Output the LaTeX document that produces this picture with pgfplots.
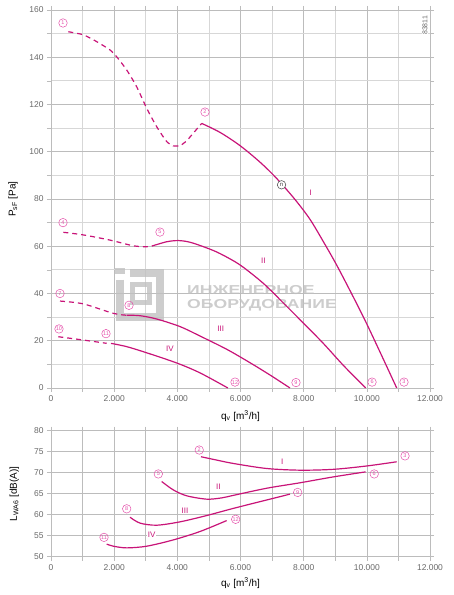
\documentclass[border=0pt]{standalone}
\usepackage{pgfplots}
\pgfplotsset{compat=1.18}
\usepackage{fontspec}
\setmainfont{Liberation Sans}
\definecolor{curve}{RGB}{200,20,120}
\definecolor{lab}{RGB}{228,80,170}
\definecolor{gridc}{RGB}{188,188,188}
\definecolor{gridm}{RGB}{215,215,215}
\definecolor{tickc}{RGB}{105,105,105}
\definecolor{wm}{RGB}{192,192,192}
\tikzset{
  cn/.style={circle, draw=lab, text=lab, line width=0.5bp, inner sep=0pt, minimum size=8.5bp, font=\fontsize{5.5}{5.5}\selectfont},
  rn/.style={text=curve, inner sep=1bp, fill=white, font=\fontsize{8}{8}\selectfont},
}
\pgfplotsset{
  mybase/.style={
    scale only axis, anchor=south west,
    xmin=0, xmax=12000,
    xtick={0,2000,...,12000},
    xticklabels={0,2.000,4.000,6.000,8.000,10.000,12.000},
    minor xtick={1000,3000,...,11000},
    grid=both,
    major grid style={draw=gridc, line width=0.6bp},
    minor grid style={draw=gridc, line width=0.6bp},
    axis line style={draw=gridc, line width=0.7bp},
    tick align=outside,
    major tick length=4bp, minor tick length=4bp,
    tick style={draw=gridc, line width=0.6bp},
    ticklabel style={font=\fontsize{8.5}{10}\selectfont, text=tickc},
    label style={font=\fontsize{8.5}{10}\selectfont, text=tickc},
    /pgf/number format/assume math mode=true,
    xlabel={q\textsubscript{v} [m\textsuperscript{3}/h]},
    every axis plot/.append style={line width=1.2bp, draw=curve, no marks},
    scaled ticks=false,
    clip=false,
  },
  dsh/.style={dash pattern=on 5bp off 4bp},
}
\begin{document}
\begin{tikzpicture}
\useasboundingbox (0bp,0bp) rectangle (454bp,595bp);
% ---------------- top chart ----------------
\begin{axis}[mybase, at={(51bp,207bp)}, width=379bp, height=378bp,
  ymin=0, ymax=160, ytick={0,20,...,160}, minor ytick={10,30,...,150},
  minor grid style={draw=gridm, line width=0.8bp},
  ylabel={P\textsubscript{sF} [Pa]},
  every axis y label/.style={at={(axis description cs:-0.100,0.5)}, anchor=center, rotate=90},
  every axis x label/.style={at={(axis description cs:0.5,-0.074)}, anchor=center},
]
% watermark (logo + text)
\begin{scope}[opacity=0.8]
\fill[wm] (axis cs:2026,50.8) rectangle (axis cs:2343,48.3);
\draw[wm, line width=8bp] (axis cs:2185,45.9) -- (axis cs:2185,30.0) -- (axis cs:3451,30.0) -- (axis cs:3451,48.7) -- (axis cs:2501,48.7);
\draw[wm, line width=5bp] (axis cs:2596,44.0) rectangle (axis cs:3134,36.0);
\node[anchor=west, text=wm, inner sep=0pt, font=\bfseries\fontsize{13}{13}\selectfont] at (axis cs:4306,41.5) {\scalebox{1.36}[1]{ИНЖЕНЕРНОЕ}};
\node[anchor=west, text=wm, inner sep=0pt, font=\bfseries\fontsize{13}{13}\selectfont] at (axis cs:4306,35.1) {\scalebox{1.36}[1]{ОБОРУДОВАНИЕ}};
\end{scope}
% curve I
\addplot[dsh, smooth, tension=0.4] coordinates {(548,150.8) (1023,149.5) (1447,146.6) (1868,143.1) (2080,140.2) (2397,134.6) (2713,127.5) (3030,118.4) (3347,110.6) (3663,104.3) (3873,102.4)};
\addplot[dsh] coordinates {(3873,102.4) (4085,102.4) (4296,104.6) (4771,112)};
\addplot[smooth, tension=0.5] coordinates {(4771,112) (5351,108.2) (5984,102.6) (6617,95.6) (7145,88.7) (7725,79.8) (8200,71.4) (8621,62.0) (9046,52.0) (9572,38.5) (9995,27.2) (10418,15.2) (10946,0)};
% curve II
\addplot[dsh, smooth] coordinates {(390,65.9) (1023,64.8) (1868,62.6) (2606,60.2) (3030,59.8) (3200,60.1)};
\addplot[smooth, tension=0.5] coordinates {(3200,60.1) (3663,61.9) (4032,62.4) (4401,61.7) (4929,59.3) (5351,56.9) (5984,52.1) (6722,44.3) (7356,36.0) (7989,27.5) (8621,18.9) (9255,9.6) (9963,0)};
% curve III
\addplot[dsh, smooth] coordinates {(285,36.8) (1023,35.6) (1973,31.6) (2397,30.8)};
\addplot[smooth, tension=0.5] coordinates {(2397,30.8) (2818,30.6) (3347,29.2) (4085,26.0) (4718,22.0) (5562,16.4) (6301,10.7) (6934,5.5) (7567,0)};
% curve IV
\addplot[dsh, smooth] coordinates {(231,21.7) (1023,20.3) (1763,18.9)};
\addplot[smooth, tension=0.5] coordinates {(1900,18.9) (2397,17.5) (3030,14.9) (3978,10.6) (4718,6.4) (5600,0)};
% labels
\node[cn] at (axis cs:380,154.5) {1};
\node[cn] at (axis cs:4876,116.8) {2};
\node[cn] at (axis cs:11177,2.5) {3};
\node[cn] at (axis cs:380,70) {4};
\node[cn] at (axis cs:3450,66) {5};
\node[cn] at (axis cs:10165,2.5) {6};
\node[cn] at (axis cs:285,40) {7};
\node[cn] at (axis cs:2470,35) {8};
\node[cn] at (axis cs:7757,2.3) {9};
\node[cn] at (axis cs:253,25) {10};
\node[cn] at (axis cs:1741,23) {11};
\node[cn] at (axis cs:5826,2.5) {12};
\node[circle, draw=black!75, text=black!75, fill=white, line width=0.5bp, inner sep=0pt, minimum size=8.5bp, font=\fontsize{6}{6}\selectfont] at (axis cs:7300,86) {n};
\node[rn] at (axis cs:8222,82.8) {I};
\node[rn] at (axis cs:6722,53.8) {II};
\node[rn] at (axis cs:5372,25) {III};
\node[rn] at (axis cs:3768,16.8) {IV};
\node[rotate=90, fill=white, inner sep=1bp, text=tickc, font=\fontsize{7}{7}\selectfont] at (axis cs:11842,153.5) {83811};
\end{axis}
% ---------------- bottom chart ----------------
\begin{axis}[mybase, at={(51bp,38.3bp)}, width=379bp, height=126bp,
  ymin=50, ymax=80, ytick={50,55,...,80},
  ylabel={L\textsubscript{WA6} [dB(A)]},
  every axis y label/.style={at={(axis description cs:-0.097,0.5)}, anchor=center, rotate=90},
  every axis x label/.style={at={(axis description cs:0.5,-0.209)}, anchor=center},
]
\addplot[smooth] coordinates {(4749,73.8) (5250,73.0) (5772,72.2) (6829,71.0) (7884,70.6) (8938,70.8) (9995,71.6) (10946,72.6)};
\addplot[smooth] coordinates {(3505,67.9) (3873,65.9) (4296,64.5) (4929,63.7) (5400,64.0) (5772,64.6) (6829,66.3) (7884,67.6) (8938,69.0) (9963,70.2)};
\addplot[smooth] coordinates {(2502,59.4) (2818,58.0) (3347,57.5) (4085,58.3) (4929,59.8) (5772,61.5) (6829,63.5) (7567,64.9)};
\addplot[smooth] coordinates {(1763,53.0) (1973,52.5) (2397,52.1) (3030,52.5) (3873,54.0) (4718,56.0) (5562,58.6)};
\node[cn] at (axis cs:4693,75.4) {2};
\node[cn] at (axis cs:11209,74.0) {3};
\node[cn] at (axis cs:3398,69.7) {5};
\node[cn] at (axis cs:10234,69.7) {6};
\node[cn] at (axis cs:2397,61.4) {8};
\node[cn] at (axis cs:7810,65.3) {9};
\node[cn] at (axis cs:1678,54.6) {11};
\node[cn] at (axis cs:5847,58.9) {12};
\node[rn] at (axis cs:7325,72.6) {I};
\node[rn] at (axis cs:5298,66.7) {II};
\node[rn] at (axis cs:4243,61.0) {III};
\node[rn] at (axis cs:3187,55.2) {IV};
\end{axis}
\end{tikzpicture}
\end{document}
